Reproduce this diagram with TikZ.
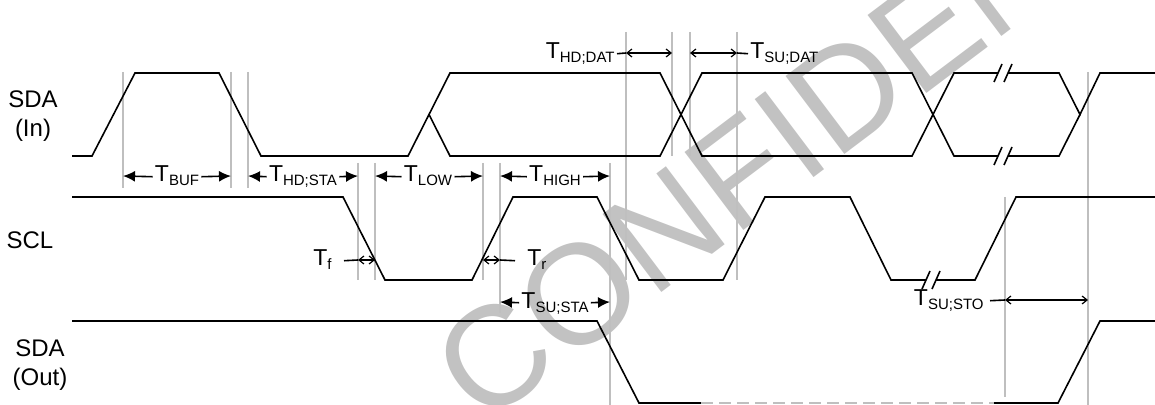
\documentclass[tikz,border=0pt]{standalone}
\usepackage{fontspec}
\setmainfont{Liberation Sans}
\usetikzlibrary{arrows.meta}
\newcommand{\tsub}[1]{T\raisebox{-2pt}{\fontsize{7.5}{8}\selectfont #1}}
\newcommand{\brkmark}[2]{%
	\fill[white] (#1-4,#2+9) -- (#1+4,#2-9) -- (#1+14,#2-9) -- (#1+6,#2+9) -- cycle;
	\draw[sig] (#1-4,#2+9) -- (#1+4,#2-9) (#1+6,#2+9) -- (#1+14,#2-9);}
\tikzset{
	sig/.style={line width=0.8pt, black},
	guide/.style={line width=1pt, gray!50},
	dimbig/.style={line width=0.8pt, -{Latex[length=6pt,width=5.5pt]}},
	dimsmall/.style={line width=0.6pt, {Straight Barb[length=2.5pt,width=4pt]}-{Straight Barb[length=2.5pt,width=4pt]}},
	lbl/.style={font=\fontsize{11.5}{13}\selectfont, inner ysep=0pt, inner xsep=1pt, anchor=base},
	signame/.style={font=\fontsize{12}{14.5}\selectfont, align=center, inner sep=0pt, anchor=north},
	wm/.style={text=gray!48, font=\fontsize{71}{71}\selectfont, inner sep=0pt}
}
\begin{document}
\begin{tikzpicture}[x=0.5pt,y=-0.5pt]
			\useasboundingbox (0,0) rectangle (1155,405);
			\node[wm, rotate=37, anchor=base west] (wmark) at (482,428) {CONFIDENTIAL};
			\draw[guide] (123,72) -- (123,188);
			\draw[guide] (231,72) -- (231,188);
			\draw[guide] (248,72) -- (248,188);
			\draw[guide] (358,163) -- (358,280);
			\draw[guide] (375,163) -- (375,280);
			\draw[guide] (483,163) -- (483,280);
			\draw[guide] (500,163) -- (500,313);
			\draw[guide] (610,163) -- (610,405);
			\draw[guide] (626,32) -- (626,280);
			\draw[guide] (672,32) -- (672,156);
			\draw[guide] (690,32) -- (690,156);
			\draw[guide] (737,32) -- (737,280);
			\draw[guide] (1005,197) -- (1005,397);
			\draw[guide] (1088,72) -- (1088,405);
			\node[signame] (sdain) at (33,90) {SDA\\(In)};
			\node[signame, anchor=center] (scl) at (30,240) {SCL};
			\node[signame] (sdaout) at (40,339) {SDA\\(Out)};
			\draw[sig] (72,156) -- (92,156) -- (135,73) -- (219,73) -- (261,156) -- (408,156) -- (450,73) -- (660,73) -- (702,156) -- (912,156) -- (954,73) -- (1059,73) -- (1080,114.5) -- (1100,73) -- (1155,73);
			\draw[sig] (429,114.5) -- (450,156) -- (660,156) -- (702,73) -- (912,73) -- (954,156) -- (1059,156) -- (1080,114.5);
			\brkmark{998}{73}
			\brkmark{998}{156}
			\draw[sig] (72,197) -- (343,197) -- (385,280) -- (472,280) -- (513,197) -- (597,197) -- (639,280) -- (723,280) -- (765,197) -- (850,197) -- (891,280) -- (975,280) -- (1016,197) -- (1155,197);
			\brkmark{926}{280}
			\draw[sig] (72,321) -- (597,321) -- (639,403) -- (701,403);
			\draw[guide, dash pattern=on 6pt off 3pt] (701,403) -- (994,403);
			\draw[sig] (994,403) -- (1058,403) -- (1100,321) -- (1155,321);
			\node[lbl] (tbuf) at (177,182) {\tsub{BUF}};
			\draw[dimbig] (tbuf.mid west) -- (123,176);
			\draw[dimbig] (tbuf.mid east) -- (231,176);
			\node[lbl] (thdsta) at (303,182) {\tsub{HD;STA}};
			\draw[dimbig] (thdsta.mid west) -- (248,176);
			\draw[dimbig] (thdsta.mid east) -- (358,176);
			\node[lbl] (tlow) at (428,182) {\tsub{LOW}};
			\draw[dimbig] (tlow.mid west) -- (375,176);
			\draw[dimbig] (tlow.mid east) -- (483,176);
			\node[lbl] (thigh) at (555,182) {\tsub{HIGH}};
			\draw[dimbig] (thigh.mid west) -- (500,176);
			\draw[dimbig] (thigh.mid east) -- (610,176);
			\node[lbl] (tsusta) at (555,308) {\tsub{SU;STA}};
			\draw[dimbig] (tsusta.mid west) -- (500,302);
			\draw[dimbig] (tsusta.mid east) -- (610,302);
			\node[lbl, anchor=base east] (thddat) at (617,59) {\tsub{HD;DAT}};
			\draw[sig] (thddat.mid east) -- (626,53);
			\draw[dimsmall] (626,53) -- (672,53);
			\node[lbl, anchor=base west] (tsudat) at (748,59) {\tsub{SU;DAT}};
			\draw[sig] (tsudat.mid west) -- (737,53);
			\draw[dimsmall] (690,53) -- (737,53);
			\node[lbl, anchor=base east] (tf) at (334,266) {\tsub{f}};
			\draw[sig] ([xshift=5pt]tf.mid east) -- (358,260);
			\draw[dimsmall] (358,260) -- (375,260);
			\node[lbl, anchor=base west] (tr) at (525,266) {\tsub{r}};
			\draw[sig] ([xshift=-5pt]tr.mid west) -- (500,260);
			\draw[dimsmall] (483,260) -- (500,260);
			\node[lbl, anchor=base east] (tsusto) at (986,306) {\tsub{SU;STO}};
			\draw[sig] ([xshift=2pt]tsusto.mid east) -- (1005,300);
			\draw[dimsmall] (1005,300) -- (1088,300);
		\end{tikzpicture}
\end{document}
